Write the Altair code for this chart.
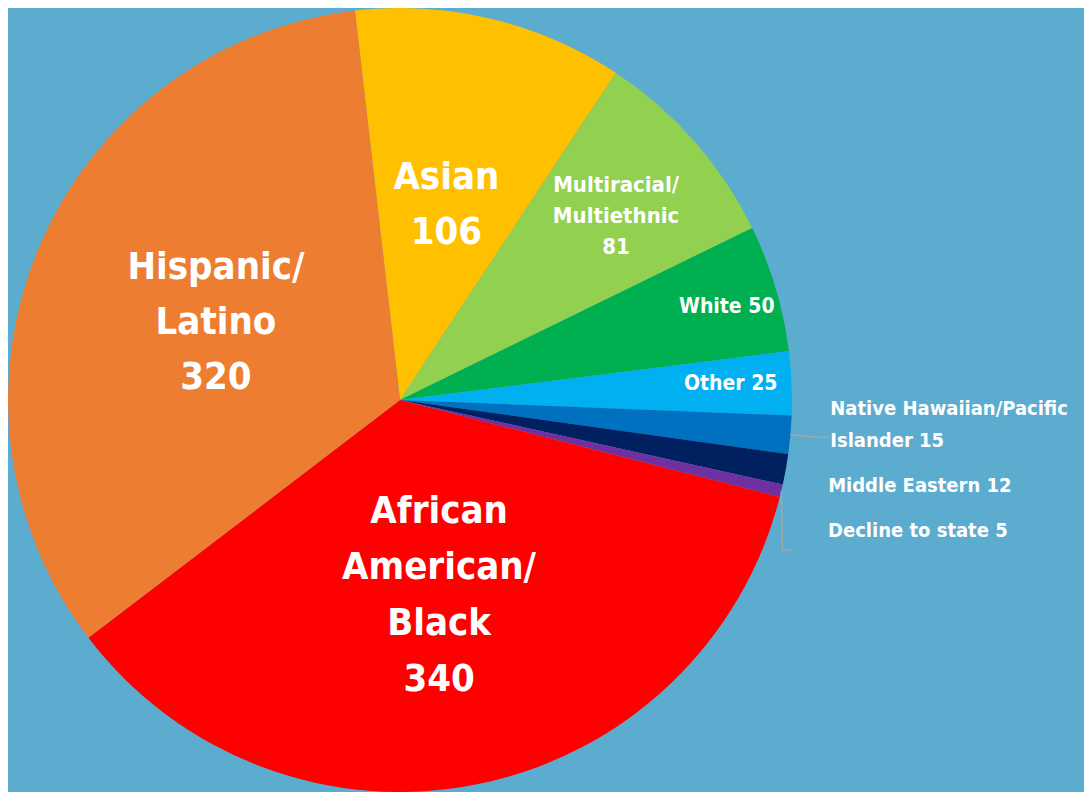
import math
import altair as alt
import pandas as pd

# ---------------- data ----------------
categories = [
    "Asian",
    "Multiracial/Multiethnic",
    "White",
    "Other",
    "Native Hawaiian/Pacific Islander",
    "Middle Eastern",
    "Decline to state",
    "African American/Black",
    "Hispanic/Latino",
]
values = [106, 81, 50, 25, 15, 12, 5, 340, 320]
label_texts = [
    "Asian\n106",
    "Multiracial/\nMultiethnic\n81",
    "White 50",
    "Other 25",
    "Native Hawaiian/Pacific\nIslander 15",
    "Middle Eastern 12",
    "Decline to state 5",
    "African\nAmerican/\nBlack\n340",
    "Hispanic/\nLatino\n320",
]
colors = [
    "#FFC000", "#92D050", "#00B050", "#00B0F0", "#0070C0",
    "#002060", "#7030A0", "#FF0000", "#ED7D31",
]

df = pd.DataFrame({
    "idx": list(range(len(categories))),
    "cat": categories,
    "value": values,
    "label": label_texts,
})

# ---------------- layout / style ----------------
BG = "#5BACCF"
FONT = "DejaVu Sans Condensed, DejaVu Sans, sans-serif"
CX, CY, R = 392, 392, 392
START = math.radians(-6.6)
TOTAL = sum(values)
theta_scale = alt.Scale(domain=[0, TOTAL], range=[START, START + 2 * math.pi])

# per-label placement: radius, dx, block-centre dy, align, fontSize, lineHeight
label_layout = {
    "Asian": (200, 0, 0, "center", 38, 55),
    "Multiracial/Multiethnic": (285, 2, 4, "center", 22, 31),
    "White": (341, 0, 4, "center", 21, 28),
    "Other": (331, 0, -2, "center", 21, 28),
    "Native Hawaiian/Pacific Islander": (432, 0, -13, "left", 20, 32),
    "Middle Eastern": (435, 0, 9, "left", 20, 28),
    "Decline to state": (440, 0, 29, "left", 20, 28),
    "African American/Black": (196, 0, 4, "center", 38, 56),
    "Hispanic/Latino": (200, 0, 1, "center", 38, 55),
}

base = (
    alt.Chart(df)
    .transform_stack(stack="value", groupby=[], as_=["v0", "v1"],
                     sort=[alt.SortField("idx", order="ascending")])
    .transform_calculate(mid="(datum.v0 + datum.v1) / 2")
)

arcs = base.mark_arc(outerRadius=R).encode(
    theta=alt.Theta("v0:Q", scale=theta_scale, stack=None),
    theta2="v1:Q",
    color=alt.Color("cat:N", scale=alt.Scale(domain=categories, range=colors), legend=None),
    x=alt.value(CX),
    y=alt.value(CY),
)

texts = []
for name, lab in zip(categories, label_texts):
    r, dx, dy, align, fs, lh = label_layout[name]
    n_lines = lab.count("\n") + 1
    first_dy = dy - (n_lines - 1) * lh / 2  # centre the text block on its anchor
    t = base.transform_filter(alt.datum.cat == name).mark_text(
        radius=r, dx=dx, dy=first_dy, align=align, baseline="middle",
        lineBreak="\n", fontSize=fs, lineHeight=lh, font=FONT,
        fontWeight="bold", color="white",
    ).encode(
        theta=alt.Theta("mid:Q", scale=theta_scale, stack=None),
        text="label:N",
        x=alt.value(CX),
        y=alt.value(CY),
    )
    texts.append(t)

# leader lines (elbow from slice edge to label)
angle_expr = f"{START} + datum.mid / {TOTAL} * 2 * PI"


def leader(name, bx_expr, by_expr):
    src = base.transform_filter(alt.datum.cat == name).transform_calculate(
        a=angle_expr
    ).transform_calculate(
        ex=f"{CX} + {R} * sin(datum.a)",
        ey=f"{CY} - {R} * cos(datum.a)",
    ).transform_calculate(
        bx=bx_expr, by=by_expr
    ).transform_calculate(
        cx2="datum.bx + 10", cy2="datum.by"
    )
    seg1 = src.mark_rule(color="#A6A6A6", strokeWidth=1.5).encode(
        x=alt.X("ex:Q", scale=None, axis=None),
        y=alt.Y("ey:Q", scale=None, axis=None),
        x2="bx:Q", y2="by:Q",
    )
    seg2 = src.mark_rule(color="#A6A6A6", strokeWidth=1.5).encode(
        x=alt.X("bx:Q", scale=None, axis=None),
        y=alt.Y("by:Q", scale=None, axis=None),
        x2="cx2:Q", y2="cy2:Q",
    )
    return [seg1, seg2]


leaders = []
leaders += leader("Native Hawaiian/Pacific Islander",
                  f"{CX} + {R + 28} * sin(datum.a)",
                  f"{CY} - {R + 28} * cos(datum.a)")
leaders += leader("Decline to state", "datum.ex + 1", "datum.ey + 59")

chart = alt.layer(arcs, *leaders, *texts).properties(
    width=1076,
    height=784,
    background=BG,
    padding=0,
    autosize=alt.AutoSizeParams(type="none"),
).configure_view(stroke=None)

chart.save("out.html", embed_options={"renderer": "svg", "actions": False})
